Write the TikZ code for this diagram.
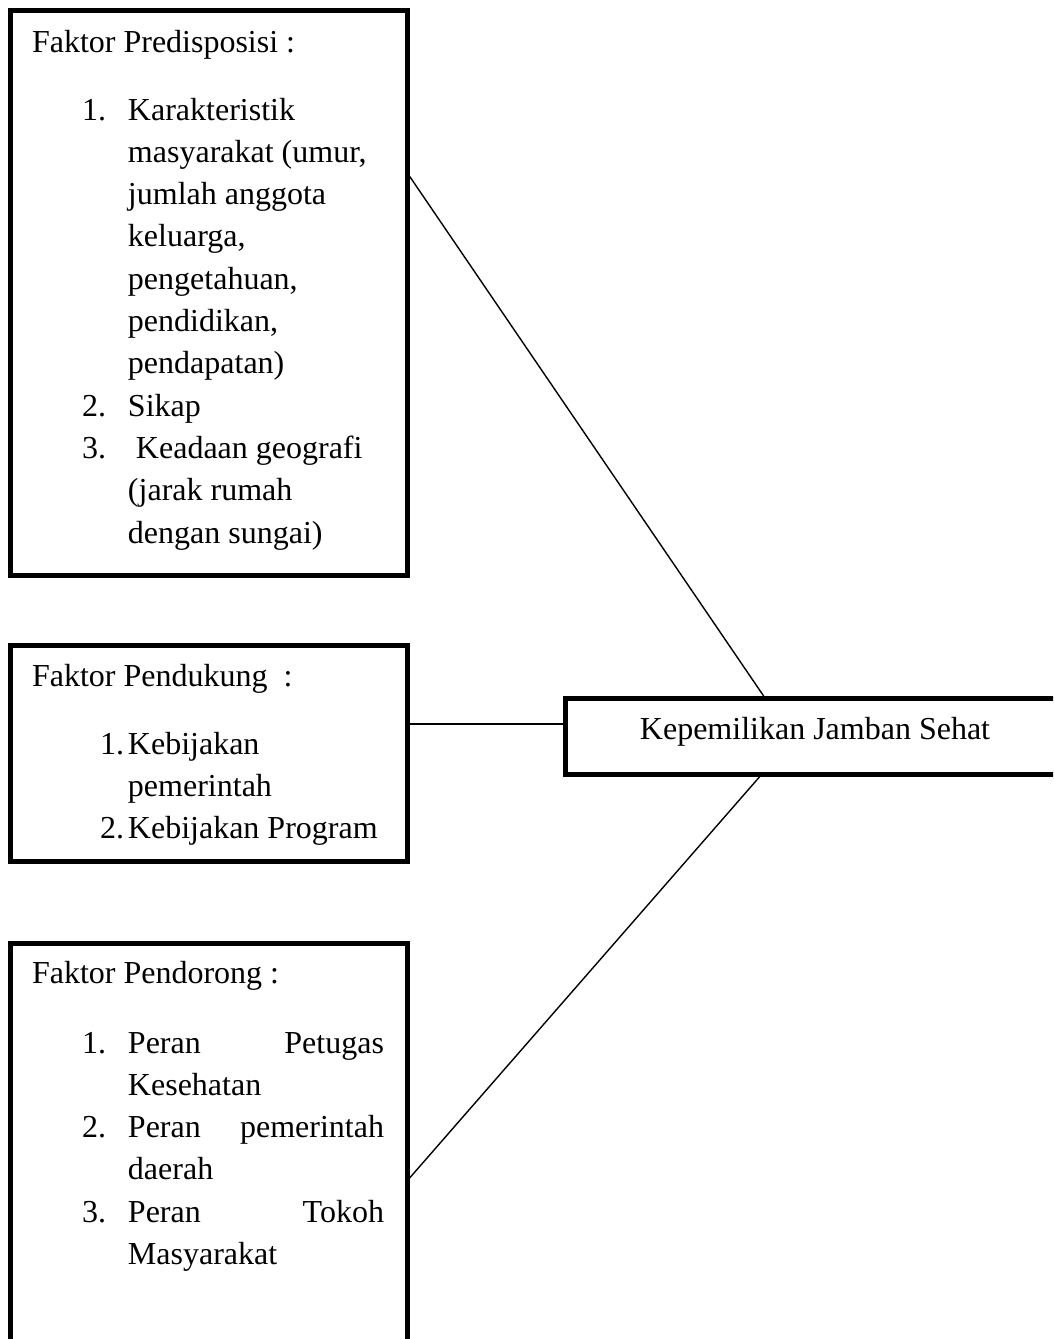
\documentclass[tikz,border=0pt]{standalone}
\usepackage{fontspec}
\setmainfont{Liberation Serif}
\usetikzlibrary{calc}
\begin{document}
\begin{tikzpicture}[x=1pt,y=-1pt,
  box/.style={draw=black, line width=5pt, rectangle, inner sep=0pt, outer sep=0pt, anchor=north west},
  txt/.style={inner sep=0pt, outer sep=0pt, anchor=base west, font=\fontsize{32pt}{42.3pt}\selectfont},
  link/.style={draw=black, line width=1.4pt}]
\path[use as bounding box, clip] (0,0) rectangle (1053,1339);

\node[box, minimum width=396.5pt, minimum height=565pt] (box1) at (10.5,10.5) {};
\node[box, minimum width=396.5pt, minimum height=216.5pt] (box2) at (10.5,645) {};
\node[box, minimum width=396.5pt, minimum height=457pt] (box3) at (10.5,943) {};
\node[box, anchor=center, minimum width=500pt, minimum height=76pt, text height=18pt, text depth=12pt,
  font=\fontsize{32pt}{42.3pt}\selectfont] (box4) at (815,736) {Kepemilikan Jamban Sehat};

\node[txt] (t1) at (32,52) {\begin{tabular}[t]{@{}l@{}}
Faktor Predisposisi :\\[25.7pt]
\hspace*{50pt}\makebox[46pt][l]{1.}Karakteristik\\
\hspace*{96pt}masyarakat (umur,\\
\hspace*{96pt}jumlah anggota\\
\hspace*{96pt}keluarga,\\
\hspace*{96pt}pengetahuan,\\
\hspace*{96pt}pendidikan,\\
\hspace*{96pt}pendapatan)\\
\hspace*{50pt}\makebox[46pt][l]{2.}Sikap\\
\hspace*{50pt}\makebox[46pt][l]{3.}\hspace*{8pt}Keadaan geografi\\
\hspace*{96pt}(jarak rumah\\
\hspace*{96pt}dengan sungai)
\end{tabular}};

\node[txt] (t2) at (32,686) {\begin{tabular}[t]{@{}l@{}}
Faktor Pendukung\ \ :\\[25.7pt]
\hspace*{68pt}\makebox[28pt][l]{1.}Kebijakan\\
\hspace*{96pt}pemerintah\\
\hspace*{68pt}\makebox[28pt][l]{2.}Kebijakan Program
\end{tabular}};

\node[txt] (t3) at (32,983) {\begin{tabular}[t]{@{}l@{}}
Faktor Pendorong :\\[27.7pt]
\hspace*{50pt}\makebox[46pt][l]{1.}\makebox[256pt][s]{Peran\hfill Petugas}\\
\hspace*{96pt}Kesehatan\\
\hspace*{50pt}\makebox[46pt][l]{2.}\makebox[256pt][s]{Peran\hfill pemerintah}\\
\hspace*{96pt}daerah\\
\hspace*{50pt}\makebox[46pt][l]{3.}\makebox[256pt][s]{Peran\hfill Tokoh}\\
\hspace*{96pt}Masyarakat
\end{tabular}};

\coordinate (j2) at ([yshift=12pt]box4.west);
\draw[link] ([yshift=-162pt]box1.north east) -- ([xshift=-50pt]box4.north);
\draw[link] (j2 -| box2.east) -- (j2);
\draw[link] ([yshift=-238pt]box3.north east) -- ([xshift=-53pt]box4.south);
\end{tikzpicture}
\end{document}
